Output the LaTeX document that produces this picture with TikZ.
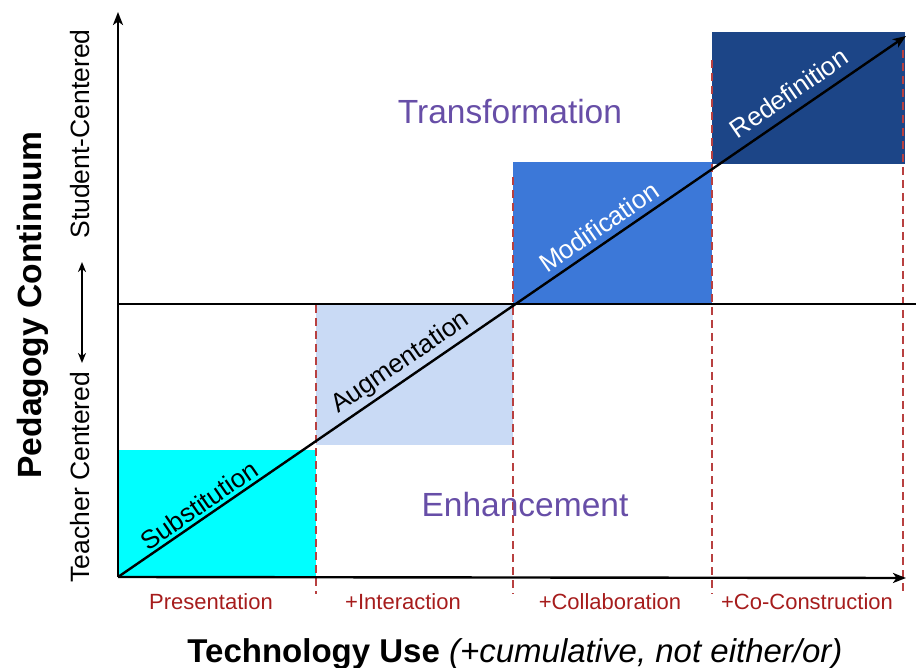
\documentclass[tikz,border=0pt]{standalone}
\usepackage{fontspec}
\setmainfont{Liberation Sans}
\usetikzlibrary{arrows.meta}
\definecolor{cyanbox}{HTML}{00FFFF}
\definecolor{lightbox}{HTML}{C9DAF5}
\definecolor{midbox}{HTML}{3C78D8}
\definecolor{darkbox}{HTML}{1C4587}
\definecolor{purpletext}{HTML}{674EA7}
\definecolor{redtext}{HTML}{A61C1C}
\definecolor{reddash}{HTML}{B84040}
\tikzset{
  axisline/.style={line width=2.4pt,-{Stealth[length=13pt,width=10pt,inset=3.5pt]}},
  plainline/.style={line width=2.4pt},
  dashline/.style={reddash,line width=1.4pt,dash pattern=on 8pt off 5pt},
  stagelabel/.style={rotate=34.5,font=\fontsize{26}{30}\selectfont},
  zonelabel/.style={purpletext,font=\fontsize{33.5}{38}\selectfont},
  uselabel/.style={redtext,font=\fontsize{22}{26}\selectfont},
  sidelabel/.style={rotate=90,font=\fontsize{26.5}{30}\selectfont},
}
\begin{document}
\begin{tikzpicture}[x=1pt,y=-1pt]
\useasboundingbox (0,0) rectangle (919,668);
% boxes
\fill[cyanbox] (118,450) rectangle (316,576);
\fill[lightbox] (316,304) rectangle (513,445);
\fill[midbox] (513,162) rectangle (712,304);
\fill[darkbox] (712,32) rectangle (905,164);
% dashed separators
\coordinate (d1t) at (316,305); \coordinate (d1b) at (316,594);
\coordinate (d2t) at (513,177); \coordinate (d2b) at (513,594);
\coordinate (d3t) at (712,60);  \coordinate (d3b) at (712,594);
\coordinate (d4t) at (903,50);  \coordinate (d4b) at (903,594);
\draw[dashline] (d1t) -- (d1b);
\draw[dashline] (d2t) -- (d2b);
\draw[dashline] (d3t) -- (d3b);
\draw[dashline] (d4t) -- (d4b);
% axes
\coordinate (O) at (118,577);
\coordinate (ytop) at (118,12);
\coordinate (xend) at (906,578);
\coordinate (hl) at (118,304);
\coordinate (hr) at (916,304);
\coordinate (diagend) at (906,36);
\draw[plainline] (hl) -- (hr);
\draw[axisline] (O) -- (ytop);
\draw[axisline] (O) -- (xend);
\draw[axisline] (O) -- (diagend);
% stage labels
\node[stagelabel] (sub) at (199,505) {Substitution};
\node[stagelabel] (aug) at (401,363) {Augmentation};
\node[stagelabel,white] (mod) at (599,227) {Modification};
\node[stagelabel,white] (red) at (789,93) {Redefinition};
% zones
\node[zonelabel] (trans) at (510,112) {Transformation};
\node[zonelabel] (enh) at (525,505) {Enhancement};
% technology use labels
\node[uselabel] (pres) at (211,602) {Presentation};
\node[uselabel] (inter) at (403,602) {+Interaction};
\node[uselabel] (coll) at (610,602) {+Collaboration};
\node[uselabel] (cocon) at (807,602) {+Co-Construction};
% axis titles
\node[anchor=base,font=\fontsize{33}{38}\selectfont] (xtitle) at (515,662)
  {\textbf{Technology Use} \textit{(+cumulative, not either/or)}};
\node[rotate=90,font=\bfseries\fontsize{33.6}{38}\selectfont] (ytitle) at (33,305) {Pedagogy Continuum};
\node[sidelabel] (stud) at (80,134) {Student-Centered};
\node[sidelabel] (teach) at (80,477) {Teacher Centered};
\coordinate (da) at (82,262);
\coordinate (db) at (82,363);
\draw[line width=1.8pt,{Stealth[length=10pt,width=8pt,inset=3pt]}-{Stealth[length=10pt,width=8pt,inset=3pt]}] (da) -- (db);
\end{tikzpicture}
\end{document}
